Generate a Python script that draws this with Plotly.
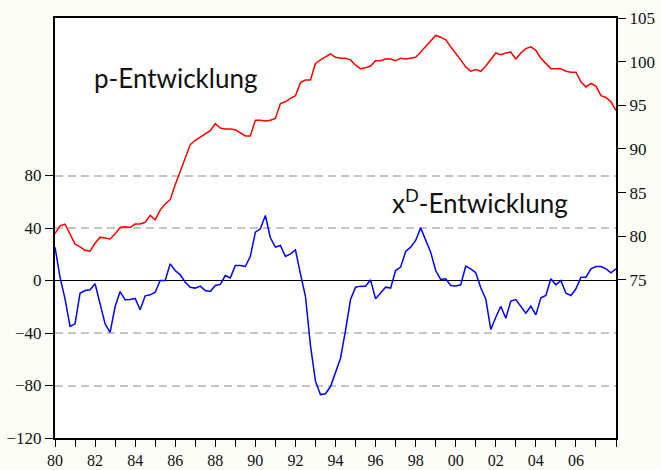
import plotly.graph_objects as go

# Quarterly observations 1980Q1 .. 2008Q1
start_year = 1980
quarters = [f"{start_year + q // 4}Q{q % 4 + 1}" for q in range(113)]

p_values = [
    80.3, 81.2, 81.4, 80.2, 79.1, 78.8, 78.4, 78.3, 79.2, 79.9,
    79.8, 79.7, 80.3, 81.0, 81.1, 81.0, 81.4, 81.4, 81.6, 82.4,
    81.9, 83.0, 83.7, 84.2, 85.9, 87.4, 89.1, 90.5, 91.0, 91.4,
    91.7, 92.1, 92.9, 92.4, 92.3, 92.3, 92.2, 91.8, 91.5, 91.5,
    93.3, 93.3, 93.2, 93.3, 93.5, 95.2, 95.4, 95.8, 96.1, 97.6,
    97.9, 97.9, 99.8, 100.2, 100.6, 100.9, 100.5, 100.4, 100.4, 100.2,
    99.6, 99.2, 99.3, 99.5, 100.1, 100.1, 100.3, 100.3, 100.1, 100.4,
    100.3, 100.4, 100.5, 101.1, 101.7, 102.4, 103.0, 102.8, 102.5, 101.7,
    101.0, 100.2, 99.4, 98.9, 99.1, 98.9, 99.5, 100.3, 101.0, 100.8,
    101.0, 101.1, 100.3, 101.0, 101.5, 101.7, 101.3, 100.4, 99.8, 99.2,
    99.2, 99.2, 98.9, 98.8, 98.8, 97.7, 97.1, 97.5, 97.2, 96.1,
    95.9, 95.4, 94.4,
]

xd_values = [
    25.4, 2.5, -14.0, -35.0, -33.0, -9.7, -7.6, -7.1, -2.5, -17.8,
    -33.0, -39.6, -19.8, -8.4, -14.7, -14.5, -13.7, -22.3, -11.7, -10.9,
    -8.9, 0.0, 0.0, 12.7, 7.6, 4.3, -1.3, -5.1, -5.8, -4.3,
    -7.6, -8.4, -3.8, -3.0, 3.8, 2.0, 11.4, 11.4, 10.7, 18.5,
    36.8, 39.4, 49.5, 32.5, 25.4, 26.7, 18.3, 20.3, 23.4, 5.1,
    -12.0, -49.5, -76.7, -86.9, -86.3, -80.8, -69.8, -59.2, -38.0, -14.5,
    -5.1, -4.3, -4.3, 0.5, -14.0, -9.7, -5.1, -5.8, 7.6, 10.2,
    22.1, 25.4, 30.5, 40.1, 31.2, 21.6, 7.6, 0.8, 1.3, -3.8,
    -4.1, -3.3, 10.9, 8.9, 5.9, -5.5, -14.0, -37.3, -28.0, -19.6,
    -28.7, -15.7, -14.5, -19.8, -24.9, -19.6, -26.2, -13.2, -11.4, 1.3,
    -3.3, 0.0, -9.7, -11.4, -6.3, 2.5, 2.5, 8.9, 10.7, 10.7,
    8.9, 5.9, 8.9,
]

left_ticks = [-120, -80, -40, 0, 40, 80]
right_ticks = [75, 80, 85, 90, 95, 100, 105]
year_ticks = list(range(1980, 2007, 2))
year_labels = [f"{y % 100:02d}" for y in year_ticks]
minor_year_ticks = list(range(1981, 2008, 2)) + [2008]

# numeric time position of each quarter label
x_pos = [int(q[:4]) + (int(q[-1]) - 1) / 4 for q in quarters]

fig = go.Figure()
fig.add_trace(go.Scatter(x=x_pos, y=p_values, yaxis="y2", mode="lines",
                         line=dict(color="#ff0000", width=1.5), showlegend=False))
fig.add_trace(go.Scatter(x=x_pos, y=xd_values, yaxis="y", mode="lines",
                         line=dict(color="#0000ff", width=1.5), showlegend=False))

serif = "Liberation Serif, Times New Roman, DejaVu Serif, serif"

fig.update_layout(
    width=661, height=470,
    margin=dict(l=55, r=45, t=18, b=32, autoexpand=False),
    paper_bgcolor="#fdfdf7",
    plot_bgcolor="#ffffff",
    xaxis=dict(
        range=[1980, 2008], tickmode="array", tickvals=year_ticks, ticktext=year_labels,
        ticks="outside", ticklen=7, tickcolor="black", tickwidth=1,
        minor=dict(tickmode="array", tickvals=minor_year_ticks, ticks="outside",
                   ticklen=7, tickcolor="black", tickwidth=1, showgrid=False),
        showline=True, linecolor="black", linewidth=2, mirror=True,
        showgrid=False, zeroline=False, automargin=False,
        tickfont=dict(family=serif, size=16, color="#111111"),
    ),
    yaxis=dict(
        range=[-120, 200], tickmode="array", tickvals=left_ticks,
        ticks="outside", ticklen=8, tickcolor="black", tickwidth=1,
        showline=True, linecolor="black", linewidth=2,
        showgrid=True, gridcolor="#c4c4c4", gridwidth=1.5, griddash="8px,5px",
        zeroline=True, zerolinecolor="black", zerolinewidth=1, automargin=False,
        tickfont=dict(family=serif, size=17, color="#111111"),
    ),
    yaxis2=dict(
        range=[56.9, 105.0], overlaying="y", side="right", tickmode="array",
        tickvals=right_ticks, ticks="outside", ticklen=8, tickcolor="black", tickwidth=1,
        showline=True, linecolor="black", linewidth=2,
        showgrid=False, zeroline=False, automargin=False,
        tickfont=dict(family=serif, size=17, color="#111111"),
    ),
    annotations=[
        dict(text="p-Entwicklung", x=0.214, y=0.857, xref="paper", yref="paper",
             showarrow=False, xanchor="center", yanchor="middle",
             font=dict(family="Lato", size=26, color="#111111")),
        dict(text="x<sup>D</sup>-Entwicklung", x=0.758, y=0.562, xref="paper", yref="paper",
             showarrow=False, xanchor="center", yanchor="middle",
             font=dict(family="Lato", size=26, color="#111111")),
    ],
)

fig.write_html(
    "out.html",
    config={"displayModeBar": False},
    post_script="document.body.style.margin='0';document.body.style.background='#fdfdf7';",
)
